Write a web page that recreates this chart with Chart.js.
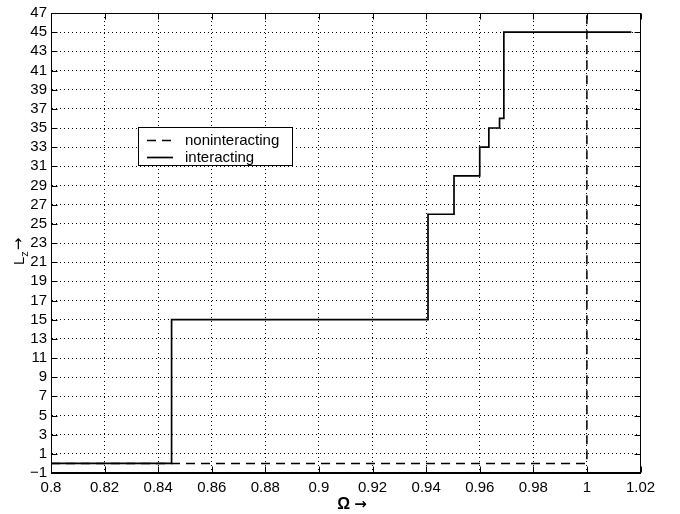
<!DOCTYPE html>
<html>
<head>
<meta charset="utf-8">
<script src="https://cdn.jsdelivr.net/npm/chart.js@4.4.0/dist/chart.umd.min.js"></script>
<style>
  body { margin: 0; background: #fff; }
</style>
</head>
<body>
<canvas id="myChart" width="680" height="514"></canvas>
<script>
// data
var omegaInteracting = [0.8, 0.845, 0.9407, 0.9504, 0.96, 0.9634, 0.9674, 0.969, 1.0166];
var lzInteracting    = [0,   15,    26,     30,     33,   35,     36,     45,    45];
var omegaNonint = [0.8, 1.0, 1.0];
var lzNonint    = [0,   0,   47];
var xTicks = [0.8, 0.82, 0.84, 0.86, 0.88, 0.9, 0.92, 0.94, 0.96, 0.98, 1, 1.02];
var yTicks = [-1, 1, 3, 5, 7, 9, 11, 13, 15, 17, 19, 21, 23, 25, 27, 29, 31, 33, 35, 37, 39, 41, 43, 45, 47];
var seriesNames = ["noninteracting", "interacting"];

var FONT = "'Liberation Sans', Arial, Helvetica, sans-serif";
var ARROW_FONT = "'DejaVu Sans', sans-serif";

function toPoints(xs, ys) {
  return xs.map(function (x, i) { return { x: x, y: ys[i] }; });
}

// box, inner ticks, axis titles and legend
var matlabAxes = {
  id: 'matlabAxes',
  afterDraw: function (chart) {
    var ctx = chart.ctx, a = chart.chartArea;
    var xs = chart.scales.x, ys = chart.scales.y;
    var L = Math.round(a.left) + 0.5, R = Math.round(a.right) - 0.5;
    var T = Math.round(a.top) + 0.5, B = Math.round(a.bottom) - 0.5;
    ctx.save();
    ctx.strokeStyle = '#000';
    ctx.lineWidth = 1;
    ctx.setLineDash([]);
    ctx.strokeRect(L, T, R - L, B - T);
    ctx.beginPath();
    xs.ticks.forEach(function (t) {
      var px = Math.round(xs.getPixelForValue(t.value)) + 0.5;
      ctx.moveTo(px, B); ctx.lineTo(px, B - 6);
      ctx.moveTo(px, T); ctx.lineTo(px, T + 6);
    });
    ys.ticks.forEach(function (t) {
      var py = Math.round(ys.getPixelForValue(t.value)) + 0.5;
      ctx.moveTo(L, py); ctx.lineTo(L + 6, py);
      ctx.moveTo(R, py); ctx.lineTo(R - 6, py);
    });
    ctx.stroke();

    // x title
    ctx.fillStyle = '#000';
    ctx.textAlign = 'left';
    ctx.textBaseline = 'alphabetic';
    ctx.font = 'bold 16px ' + FONT;
    var wo = ctx.measureText('\u03A9').width;
    ctx.font = 'bold 15px ' + ARROW_FONT;
    var wa = ctx.measureText('\u2192').width;
    var x0 = 352 - (wo + 4 + wa) / 2;
    ctx.font = 'bold 16px ' + FONT;
    ctx.fillText('\u03A9', x0, 509);
    ctx.font = 'bold 15px ' + ARROW_FONT;
    ctx.fillText('\u2192', x0 + wo + 4, 509);

    // y title, rotated, with subscript z
    ctx.save();
    ctx.translate(24, 265);
    ctx.rotate(-Math.PI / 2);
    ctx.textAlign = 'left';
    ctx.textBaseline = 'alphabetic';
    ctx.font = '15px ' + FONT;
    ctx.fillText('L', 0, 0);
    var w = ctx.measureText('L').width;
    ctx.font = '11px ' + FONT;
    ctx.fillText('z', w, 4);
    var wz = ctx.measureText('z').width;
    ctx.font = '15px ' + ARROW_FONT;
    ctx.fillText('\u2192', w + wz + 1, -1);
    ctx.restore();

    // legend
    var bx = 138.5, by = 127.5, bw = 154, bh = 38;
    ctx.fillStyle = '#fff';
    ctx.fillRect(bx, by, bw, bh);
    ctx.strokeRect(bx, by, bw, bh);
    chart.data.datasets.forEach(function (ds, i) {
      var ly = i === 0 ? 140.5 : 157.5;
      ctx.beginPath();
      ctx.lineWidth = ds.borderWidth;
      ctx.setLineDash(ds.borderDash || []);
      ctx.moveTo(147, ly); ctx.lineTo(173, ly);
      ctx.stroke();
      ctx.setLineDash([]);
      ctx.fillStyle = '#000';
      ctx.font = '15px ' + FONT;
      ctx.textAlign = 'left';
      ctx.textBaseline = 'middle';
      ctx.fillText(ds.label, 185, ly);
    });
    ctx.restore();
  }
};

var ctxL = document.getElementById('myChart').getContext('2d');
var lzChart = new Chart(ctxL, {
  type: 'scatter',
  data: {
    datasets: [
      {
        label: seriesNames[0],
        data: toPoints(omegaNonint, lzNonint),
        showLine: true,
        stepped: 'before',
        borderColor: '#000',
        borderWidth: 1.5,
        borderDash: [9, 6],
        pointRadius: 0,
        fill: false
      },
      {
        label: seriesNames[1],
        data: toPoints(omegaInteracting, lzInteracting),
        showLine: true,
        stepped: 'before',
        borderColor: '#000',
        borderWidth: 1.7,
        pointRadius: 0,
        fill: false
      }
    ]
  },
  options: {
    responsive: false,
    animation: false,
    devicePixelRatio: 1,
    layout: { padding: { top: 7.5, right: 39.5, left: 0, bottom: 0 } },
    plugins: {
      legend: { display: false },
      tooltip: { enabled: false }
    },
    scales: {
      x: {
        type: 'linear',
        min: 0.8,
        max: 1.02,
        afterBuildTicks: function (s) { s.ticks = xTicks.map(function (v) { return { value: v }; }); },
        afterFit: function (s) { s.height = 41; },
        ticks: {
          autoSkip: false,
          maxRotation: 0,
          padding: 6,
          color: '#000',
          font: { family: FONT, size: 15 },
          callback: function (v) { return String(Number(v.toFixed(2))); }
        },
        grid: { color: '#000', lineWidth: 1, drawTicks: false },
        border: { display: true, color: '#000', width: 1, dash: [1, 3] }
      },
      y: {
        type: 'linear',
        min: -1,
        max: 47,
        afterBuildTicks: function (s) { s.ticks = yTicks.map(function (v) { return { value: v }; }); },
        afterFit: function (s) { s.width = 51; },
        ticks: {
          autoSkip: false,
          padding: 4,
          color: '#000',
          font: { family: FONT, size: 15 },
          callback: function (v) { return v < 0 ? '\u2212' + Math.abs(v) : String(v); }
        },
        grid: { color: '#000', lineWidth: 1, drawTicks: false },
        border: { display: true, color: '#000', width: 1, dash: [1, 3] }
      }
    }
  },
  plugins: [matlabAxes]
});
</script>
</body>
</html>
